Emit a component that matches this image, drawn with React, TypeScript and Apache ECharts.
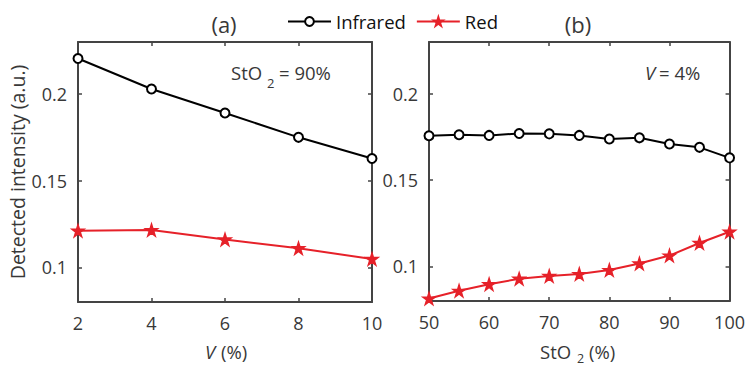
import React, { useEffect, useRef } from "react";
import * as echarts from "echarts";

const vValues = [2, 4, 6, 8, 10];
const infraredA = [0.2205, 0.2029, 0.189, 0.175, 0.1628];
const redA = [0.1211, 0.1215, 0.1161, 0.111, 0.1048];

const sto2Values = [50, 55, 60, 65, 70, 75, 80, 85, 90, 95, 100];
const infraredB = [0.1757, 0.1763, 0.1759, 0.177, 0.1768, 0.1759, 0.1738, 0.1745, 0.1709, 0.169, 0.1629];
const redB = [0.0814, 0.0859, 0.0897, 0.0929, 0.0945, 0.0956, 0.0979, 0.1017, 0.1063, 0.1136, 0.1201];

const yTicks = [0.1, 0.15, 0.2];
const seriesNames = ["Infrared", "Red"];

const FONT = "Open Sans";
const TXT = "#383838";
const AX = "#444444";
const RED = "#e62129";
const STAR = "path://M50,0 L61.2,34.5 L97.6,34.5 L68.2,55.9 L79.4,90.5 L50,69.1 L20.6,90.5 L31.8,55.9 L2.4,34.5 L38.8,34.5 Z";

export default function App() {
  const ref = useRef<HTMLDivElement>(null);
  useEffect(() => {
    if (!ref.current) return;
    const chart = echarts.init(ref.current, null, { renderer: "svg" });
    const axisLine = { show: true, lineStyle: { color: AX, width: 2 } };
    const tick = { show: true, inside: true, length: 4, lineStyle: { color: AX, width: 1.5 } };
    const label = { color: TXT, fontSize: 18, fontFamily: FONT };
    const mkX = (grid: number, min: number, max: number, interval: number, pos: "top" | "bottom") => ({
      type: "value",
      gridIndex: grid,
      position: pos,
      min,
      max,
      interval,
      axisLine,
      axisTick: tick,
      axisLabel: pos === "bottom" ? { ...label, margin: 12 } : { show: false },
      splitLine: { show: false },
    });
    const mkY = (grid: number, pos: "left" | "right", name?: string) => ({
      type: "value",
      gridIndex: grid,
      position: pos,
      min: 0.08,
      max: 0.23,
      axisLine,
      axisTick: { ...tick, customValues: yTicks },
      axisLabel:
        pos === "left"
          ? { ...label, margin: 11, customValues: yTicks, formatter: (v: number) => String(+v.toFixed(2)) }
          : { show: false },
      splitLine: { show: false },
      name: name,
      nameLocation: "middle",
      nameGap: 51,
      nameTextStyle: { color: TXT, fontSize: 19.5, fontFamily: FONT },
    });
    const irStyle = {
      type: "line",
      symbol: "emptyCircle",
      symbolSize: 9,
      lineStyle: { color: "#000", width: 2 },
      itemStyle: { color: "#000", borderColor: "#000", borderWidth: 2 },
      clip: false,
    };
    const redStyle = {
      type: "line",
      symbol: STAR,
      symbolSize: 12,
      lineStyle: { color: RED, width: 2 },
      itemStyle: { color: RED, borderColor: RED, borderWidth: 1.5 },
      clip: false,
    };
    const txt = (x: number, y: number, text: string, size = 18, extra: any = {}) => ({
      type: "text",
      x,
      y,
      style: { text, fontSize: size, fontFamily: FONT, fill: TXT, textVerticalAlign: "middle", ...extra },
    });
    chart.setOption({
      animation: false,
      legend: {
        data: seriesNames,
        left: 282,
        top: 7,
        itemWidth: 43,
        itemHeight: 11,
        itemGap: 10,
        textStyle: { color: "#111", fontSize: 18.5, fontFamily: FONT },
      },
      grid: [
        { left: 78, top: 42, width: 294, height: 260 },
        { left: 429, top: 42, width: 301, height: 259 },
      ],
      xAxis: [
        mkX(0, 2, 10, 2, "bottom"),
        mkX(0, 2, 10, 2, "top"),
        mkX(1, 50, 100, 10, "bottom"),
        mkX(1, 50, 100, 10, "top"),
      ],
      yAxis: [
        mkY(0, "left", "Detected intensity (a.u.)"),
        mkY(0, "right"),
        mkY(1, "left"),
        mkY(1, "right"),
      ],
      series: [
        { ...irStyle, name: seriesNames[0], xAxisIndex: 0, yAxisIndex: 0, data: vValues.map((v, i) => [v, infraredA[i]]) },
        { ...redStyle, name: seriesNames[1], xAxisIndex: 0, yAxisIndex: 0, data: vValues.map((v, i) => [v, redA[i]]) },
        { ...irStyle, name: seriesNames[0], xAxisIndex: 2, yAxisIndex: 2, data: sto2Values.map((v, i) => [v, infraredB[i]]) },
        { ...redStyle, name: seriesNames[1], xAxisIndex: 2, yAxisIndex: 2, data: sto2Values.map((v, i) => [v, redB[i]]) },
      ],
      graphic: [
        txt(224, 24, "(a)", 22, { textAlign: "center" }),
        txt(578, 24, "(b)", 22, { textAlign: "center" }),
        txt(231, 72, "StO", 18.5),
        txt(267, 83, "2", 13),
        txt(279, 72, "= 90%", 18.5),
        txt(645, 72, "V", 18.5, { fontStyle: "italic" }),
        txt(659, 72, "= 4%", 18.5),
        txt(205, 351, "V", 18.5, { fontStyle: "italic" }),
        txt(221, 351, "(%)", 18.5),
        txt(540, 351, "StO", 18.5),
        txt(577, 358, "2", 12.5),
        txt(589, 351, "(%)", 18.5),
      ],
    });
    return () => chart.dispose();
  }, []);
  return <div ref={ref} style={{ width: 748, height: 368, position: "absolute", left: 0, top: 0, background: "#fff" }} />;
}
